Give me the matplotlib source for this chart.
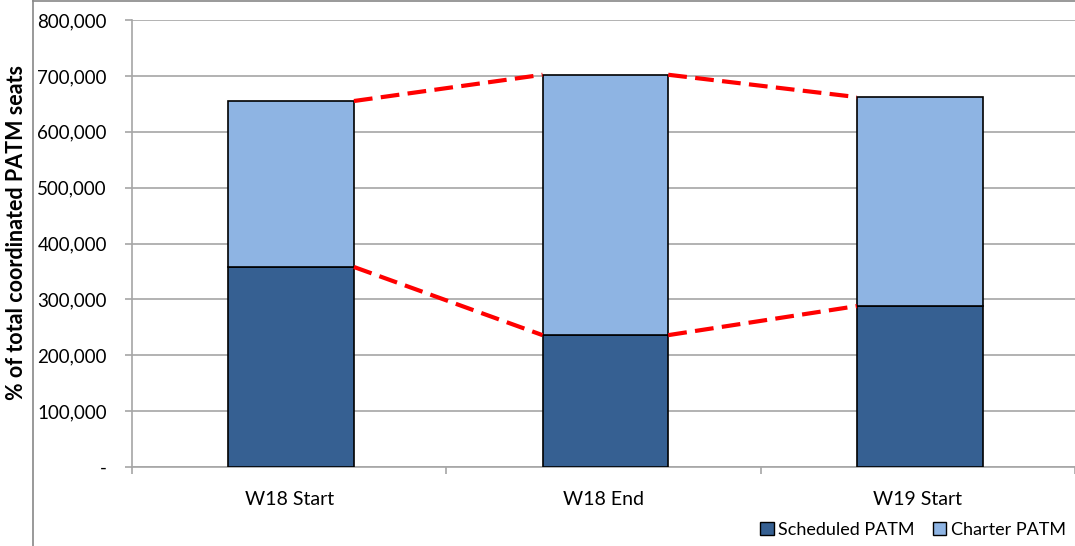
import numpy as np
import matplotlib.pyplot as plt
from matplotlib.lines import Line2D
from matplotlib.patches import Patch
from matplotlib.ticker import FuncFormatter

categories = ['W18 Start', 'W18 End', 'W19 Start']
scheduled = [358000, 236000, 288000]
charter = [297000, 466000, 374000]

plt.rcParams['font.family'] = ['Lato', 'DejaVu Sans']

dark = '#366092'
light = '#8EB4E3'
grid_c = '#A6A6A6'

fig = plt.figure(figsize=(10.75, 5.46), dpi=100)
ax = fig.add_axes([132 / 1075, 1 - 467 / 546, 1 - 132 / 1075, 447 / 546])

x = np.arange(len(categories))
w = 0.4
sched = np.array(scheduled)
total = sched + np.array(charter)

ax.bar(x + 0.006, sched, w, color=dark, edgecolor='black', linewidth=1.2,
       zorder=3)
ax.bar(x + 0.006, charter, w, bottom=sched, color=light, edgecolor='black',
       linewidth=1.2, zorder=3)

# dashed connectors between bar corners
for i in range(len(x) - 1):
    for vals in (sched, total):
        ax.plot([x[i] + 0.006 + w / 2, x[i + 1] + 0.006 - w / 2],
                [vals[i], vals[i + 1]],
                color='#FF0000', linestyle=(0, (4.5, 2)), linewidth=3,
                zorder=4, dash_capstyle='butt')

ax.set_xlim(-0.5, 2.5)
ax.set_ylim(0, 800000)
ax.set_yticks(np.arange(0, 800001, 100000))
ax.yaxis.set_major_formatter(FuncFormatter(
    lambda v, p: '-' if v == 0 else '{:,.0f}'.format(v)))
ax.set_xticks(x)
ax.set_xticklabels(categories)
ax.set_xticks([-0.5, 0.5, 1.5, 2.5], minor=True)
ax.tick_params(axis='x', which='major', length=0, pad=17, labelsize=14)
ax.tick_params(axis='x', which='minor', length=5, color=grid_c, width=1.2)
ax.tick_params(axis='y', length=5, color=grid_c, width=1.2, labelsize=13.5,
               pad=13)
ax.grid(axis='y', color=grid_c, linewidth=1.2, zorder=0)
ax.set_axisbelow(True)
for s in ('top', 'right'):
    ax.spines[s].set_visible(False)
for s in ('left', 'bottom'):
    ax.spines[s].set_color(grid_c)
    ax.spines[s].set_linewidth(1.2)

fig.text(17 / 1075, 1 - 232 / 546, '% of total coordinated PATM seats',
         rotation=90, ha='center', va='center', fontsize=15.5,
         fontweight='bold')

handles = [Patch(facecolor=dark, edgecolor='black'),
           Patch(facecolor=light, edgecolor='black')]
fig.legend(handles, ['Scheduled PATM', 'Charter PATM'], loc='center right',
           bbox_to_anchor=(1.0, 1 - 530 / 546), ncol=2, frameon=False,
           fontsize=13, handlelength=0.75, handleheight=0.75,
           handletextpad=0.25, columnspacing=1.0, borderaxespad=0.1)

# outer chart border
fig.add_artist(Line2D([33 / 1075, 33 / 1075], [0, 1], color='#888888',
                      linewidth=1.2))
fig.add_artist(Line2D([33 / 1075, 1], [1 - 1 / 546, 1 - 1 / 546],
                      color='#888888', linewidth=1.2))

fig.savefig('out.png', dpi=100)
